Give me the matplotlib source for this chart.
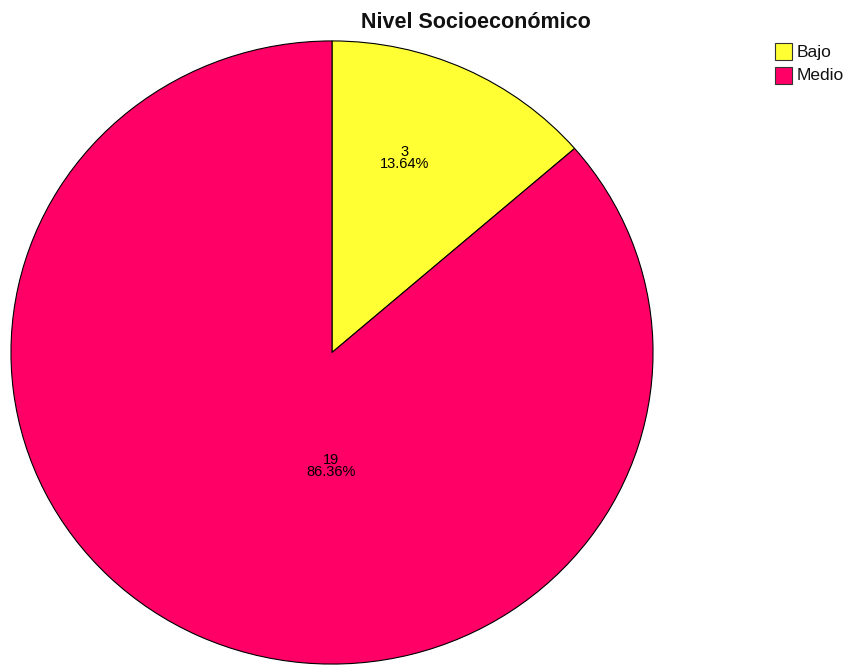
import matplotlib
matplotlib.use("Agg")
import matplotlib.pyplot as plt
from matplotlib.patches import Rectangle

# data
categories = ["Bajo", "Medio"]
counts = [3, 19]
colors = ["#FFFF33", "#FF0066"]
label_pos = [(0.227, 0.624), (-0.003, -0.365)]  # where SPSS put the labels

plt.rcParams['font.family'] = ['Liberation Sans', 'DejaVu Sans']

W, H = 847, 666
fig = plt.figure(figsize=(W / 100, H / 100), dpi=100)

# pie area in pixels: x 10..654, y 40..665 (slightly wider than tall)
ax = fig.add_axes([10 / W, 1 - 665 / H, 644 / W, 625 / H])
wedges, _ = ax.pie(counts, colors=colors, startangle=90, counterclock=False,
                   wedgeprops=dict(edgecolor='black', linewidth=0.8))
ax.set_xlim(-1.003, 1.003)
ax.set_ylim(-1.003, 1.003)
ax.set_aspect('auto')
ax.axis('off')

total = sum(counts)
for (x, y), n in zip(label_pos, counts):
    ax.text(x, y, f"{n}\n{n / total * 100:.2f}%", ha='center', va='center',
            fontsize=10.5, linespacing=0.85, color='black')

fig.text(476 / W, 1 - 23 / H, "Nivel Socioeconómico", ha='center', va='center',
         fontsize=15.5, fontweight='bold', color='#111111')

# legend boxes, drawn by hand to match SPSS look
for i, (cat, col) in enumerate(zip(categories, colors)):
    y0 = 43 + i * 24
    fig.patches.append(Rectangle((775 / W, 1 - (y0 + 17) / H), 17 / W, 17 / H,
                                 transform=fig.transFigure, facecolor=col,
                                 edgecolor='#333333', linewidth=0.8))
    fig.text(797 / W, 1 - (y0 + 9) / H, cat, ha='left', va='center',
             fontsize=12.5, color='#111111')

fig.savefig("out.png", dpi=100)
